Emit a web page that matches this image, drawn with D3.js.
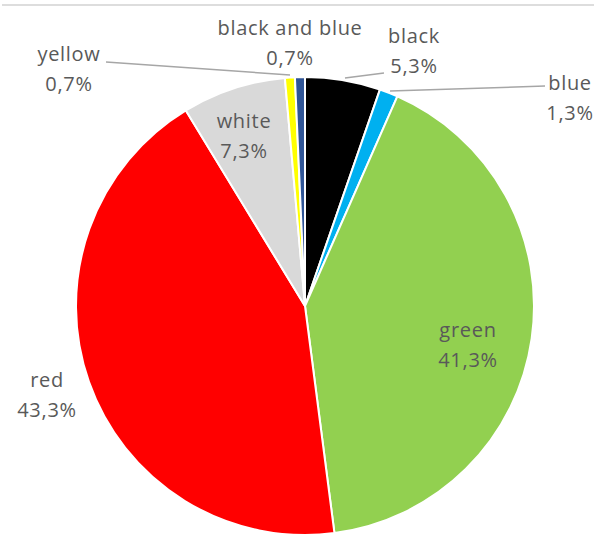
<!DOCTYPE html>
<html>
<head>
<meta charset="utf-8">
<script src="https://cdn.jsdelivr.net/npm/d3@7"></script>
<style>
  html, body { margin: 0; padding: 0; background: #fff; }
  svg { display: block; }
  text { font-family: "Open Sans", sans-serif; font-size: 20px; fill: #595959; letter-spacing: 0.7px; }
</style>
</head>
<body>
<svg id="chart" width="597" height="538"></svg>
<script>
// Share of colours, in percent, clockwise from 12 o'clock
const categories = ["black", "blue", "green", "red", "white", "yellow", "black and blue"];
const values = [5.3, 1.3, 41.3, 43.3, 7.3, 0.7, 0.7];
const valueLabels = ["5,3%", "1,3%", "41,3%", "43,3%", "7,3%", "0,7%", "0,7%"];
const sliceColors = ["#000000", "#00B0F0", "#92D050", "#FF0000", "#D9D9D9", "#FFFF00", "#2F5597"];

// Label anchor (text block centre) and optional leader line, per category
const labelLayout = {
  "black":          { x: 414, y: 43,  leader: [[345, 78], [384, 73]] },
  "blue":           { x: 570, y: 90,  leader: [[390, 91], [545, 86]] },
  "green":          { x: 468, y: 337 },
  "red":            { x: 47,  y: 387 },
  "white":          { x: 244, y: 128 },
  "yellow":         { x: 69,  y: 61,  leader: [[106, 62], [290, 75]] },
  "black and blue": { x: 290, y: 35 }
};

const svg = d3.select("#chart");
const cx = 305, cy = 306, radius = 229;
const lineGap = 30;

// thin frame rule along the top
svg.append("line")
  .attr("x1", 2).attr("x2", 594)
  .attr("y1", 5).attr("y2", 5)
  .attr("stroke", "#dddddd").attr("stroke-width", 2);

const rows = categories.map((c, i) => ({ name: c, value: values[i], label: valueLabels[i], color: sliceColors[i] }));

const pie = d3.pie().sort(null).value(d => d.value).startAngle(0).endAngle(2 * Math.PI);
const arc = d3.arc().innerRadius(0).outerRadius(radius);

const g = svg.append("g").attr("transform", `translate(${cx},${cy})`);
g.selectAll("path.slice")
  .data(pie(rows))
  .join("path")
  .attr("class", "slice")
  .attr("d", arc)
  .attr("fill", d => d.data.color)
  .attr("stroke", "#ffffff")
  .attr("stroke-width", 2)
  .attr("stroke-linejoin", "round");

// leader lines
const lineGen = d3.line();
rows.forEach(r => {
  const L = labelLayout[r.name];
  if (L.leader) {
    svg.append("path")
      .attr("d", lineGen(L.leader))
      .attr("fill", "none")
      .attr("stroke", "#a6a6a6")
      .attr("stroke-width", 1.5);
  }
});

// two-line labels: category name over value
rows.forEach(r => {
  const L = labelLayout[r.name];
  const t = svg.append("text").attr("text-anchor", "middle");
  t.append("tspan").attr("x", L.x).attr("y", L.y).text(r.name);
  t.append("tspan").attr("x", L.x).attr("y", L.y + lineGap).text(r.label);
});
</script>
</body>
</html>
